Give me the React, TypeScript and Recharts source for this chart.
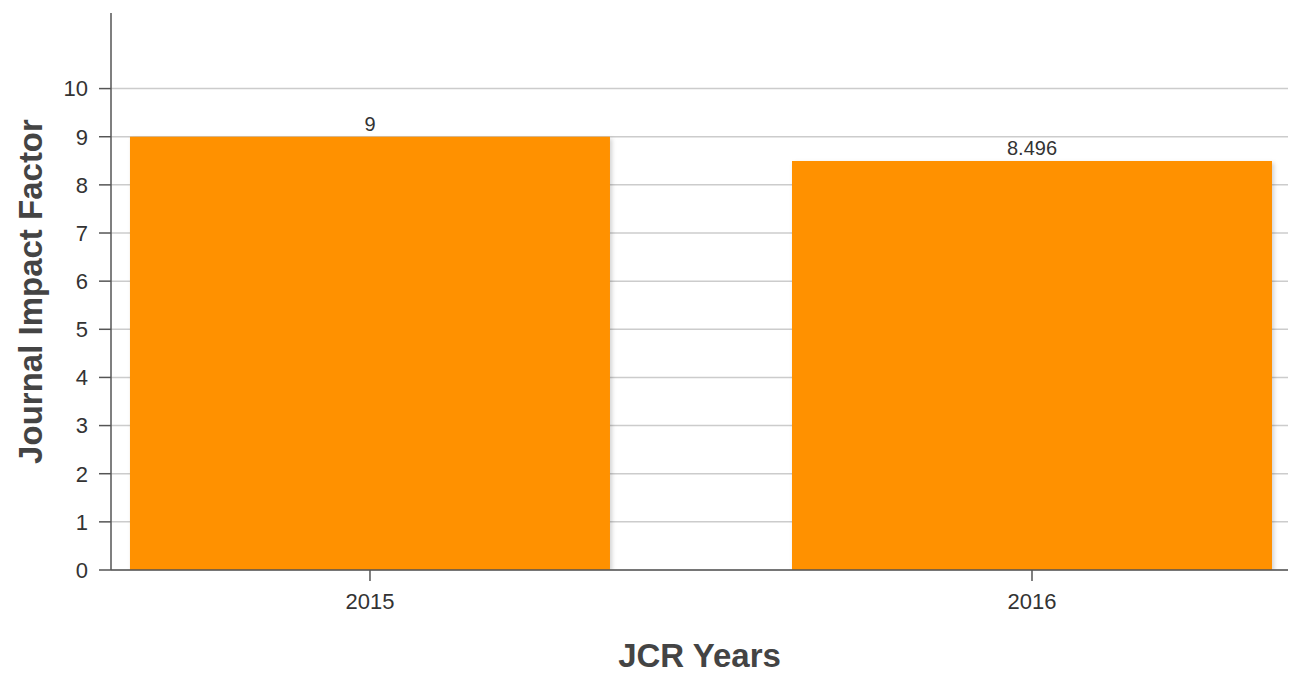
import { Bar, BarChart, CartesianGrid, LabelList, XAxis, YAxis } from "recharts";

const years = [2015, 2016];
const impactFactors = [9, 8.496];
const yTicks = [0, 1, 2, 3, 4, 5, 6, 7, 8, 9, 10];

const data = years.map((year, i) => ({ year, value: impactFactors[i] }));

const font = "'Liberation Sans', Arial, sans-serif";
const orange = "#ff9100";

function ShadowBar(props: any) {
  const { x, y, width, height } = props;
  if (!height || height <= 0) return null;
  return (
    <rect
      x={x}
      y={y}
      width={width}
      height={height}
      fill={orange}
      style={{ filter: "drop-shadow(2px 2px 2px rgba(0,0,0,0.18))" }}
    />
  );
}

function YTitle(props: any) {
  const vb = props.viewBox ?? { x: 0, y: 0, width: 0, height: 0 };
  const cx = 30;
  const cy = vb.y + vb.height / 2;
  return (
    <text
      x={cx}
      y={cy}
      transform={`rotate(-90, ${cx}, ${cy})`}
      textAnchor="middle"
      dominantBaseline="central"
      fontFamily={font}
      fontWeight="bold"
      fontSize={33}
      fill="#444"
    >
      Journal Impact Factor
    </text>
  );
}

function XTitle(props: any) {
  const vb = props.viewBox ?? { x: 0, y: 0, width: 0, height: 0 };
  return (
    <text
      x={vb.x + vb.width / 2}
      y={667}
      textAnchor="middle"
      fontFamily={font}
      fontWeight="bold"
      fontSize={33}
      fill="#444"
    >
      JCR Years
    </text>
  );
}

export default function App() {
  return (
    <div style={{ position: "absolute", left: 0, top: 0, background: "#fff" }}>
      <BarChart width={1310} height={673} data={data} margin={{ top: 13, right: 22, bottom: 73, left: 0 }}>
        <CartesianGrid stroke="#ccc" strokeWidth={1.5} vertical={false} horizontalValues={yTicks} />
        <XAxis
          dataKey="year"
          type="number"
          domain={[2014.6088, 2016.3867]}
          allowDataOverflow
          ticks={years}
          height={30}
          tickSize={11}
          tickMargin={12}
          stroke="#555"
          strokeWidth={1.5}
          tick={{ fill: "#333", fontSize: 22, fontFamily: font }}
          label={{ content: XTitle }}
        />
        <YAxis
          type="number"
          domain={[0, 11.57]}
          allowDataOverflow
          ticks={yTicks}
          width={111}
          tickSize={12}
          tickMargin={11}
          stroke="#555"
          strokeWidth={1.5}
          tick={{ fill: "#333", fontSize: 22, fontFamily: font }}
          label={{ content: YTitle }}
        />
        <Bar dataKey="value" barSize={480} fill={orange} shape={ShadowBar} isAnimationActive={false}>
          <LabelList dataKey="value" position="top" offset={6} fill="#333" fontSize={20} fontFamily={font} />
        </Bar>
      </BarChart>
    </div>
  );
}
